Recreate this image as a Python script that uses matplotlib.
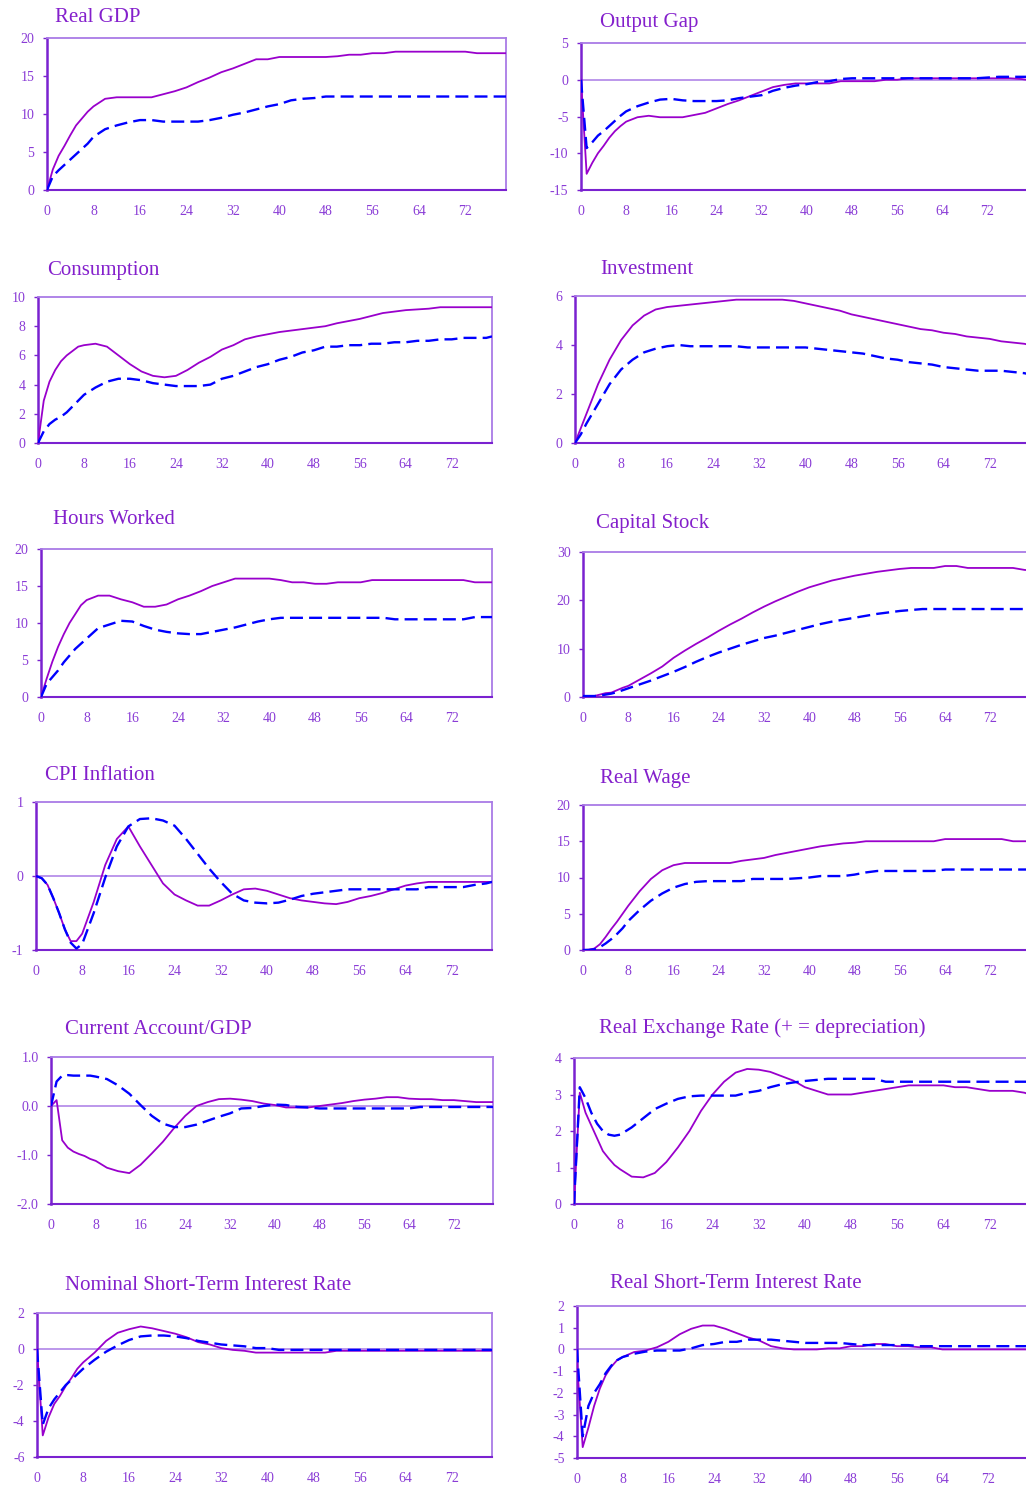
import matplotlib
matplotlib.use("Agg")
import matplotlib.pyplot as plt

plt.rcParams['font.family'] = ['Liberation Serif', 'DejaVu Serif']

W, H = 1026, 1488

# quarters after the shock (every quarter to 8, then every second one)
quarters = list(range(0, 9)) + list(range(10, 80, 2)) + [79]
x_ticks = list(range(0, 80, 8))

real_gdp_base = [0, 2.7, 4.5, 5.8, 7.2, 8.5, 9.4, 10.3, 11.0,
                 12.0, 12.2, 12.2, 12.2, 12.2,
                 12.6, 13.0, 13.5, 14.2, 14.8,
                 15.5, 16.0, 16.6, 17.2, 17.2,
                 17.5, 17.5, 17.5, 17.5, 17.5,
                 17.6, 17.8, 17.8, 18.0, 18.0,
                 18.2, 18.2, 18.2, 18.2, 18.2,
                 18.2, 18.2, 18.0, 18.0, 18.0, 18.0]
real_gdp_alt = [0, 1.8, 2.6, 3.3, 4.0, 4.7, 5.4, 6.1, 7.0,
                8.0, 8.5, 8.9, 9.2, 9.2,
                9.0, 9.0, 9.0, 9.0, 9.2,
                9.5, 9.9, 10.2, 10.6, 11.0,
                11.3, 11.8, 12.0, 12.1, 12.3,
                12.3, 12.3, 12.3, 12.3, 12.3,
                12.3, 12.3, 12.3, 12.3, 12.3,
                12.3, 12.3, 12.3, 12.3, 12.3, 12.3]

output_gap_base = [0, -12.8, -11.3, -10.0, -9.0, -7.9, -7.0, -6.3, -5.7,
                   -5.1, -4.9, -5.1, -5.1, -5.1,
                   -4.8, -4.5, -3.9, -3.3, -2.8,
                   -2.2, -1.6, -1.0, -0.7, -0.5,
                   -0.5, -0.5, -0.5, -0.2, -0.2,
                   -0.2, -0.2, 0.0, 0.0, 0.2,
                   0.2, 0.2, 0.2, 0.2, 0.2,
                   0.2, 0.2, 0.2, 0.2, 0.1, 0.0]
output_gap_alt = [0, -9.3, -8.5, -7.6, -7.0, -6.3, -5.6, -4.9, -4.3,
                  -3.6, -3.1, -2.7, -2.6, -2.8,
                  -2.9, -2.9, -2.9, -2.8, -2.5,
                  -2.3, -2.1, -1.5, -1.1, -0.8,
                  -0.6, -0.3, -0.2, 0.1, 0.2,
                  0.2, 0.2, 0.2, 0.2, 0.2,
                  0.2, 0.2, 0.2, 0.2, 0.2,
                  0.2, 0.3, 0.4, 0.4, 0.4, 0.4]

consumption_base = [0, 2.9, 4.2, 5.0, 5.6, 6.0, 6.3, 6.6, 6.7,
                    6.8, 6.6, 6.0, 5.4, 4.9,
                    4.6, 4.5, 4.6, 5.0, 5.5,
                    5.9, 6.4, 6.7, 7.1, 7.3,
                    7.45, 7.6, 7.7, 7.8, 7.9,
                    8.0, 8.2, 8.35, 8.5, 8.7,
                    8.9, 9.0, 9.1, 9.15, 9.2,
                    9.3, 9.3, 9.3, 9.3, 9.3, 9.3]
consumption_alt = [0, 0.8, 1.3, 1.6, 1.8, 2.1, 2.5, 2.9, 3.3,
                   3.8, 4.2, 4.4, 4.4, 4.3,
                   4.1, 4.0, 3.9, 3.9, 3.9,
                   4.0, 4.4, 4.6, 4.9, 5.2,
                   5.4, 5.7, 5.9, 6.2, 6.35,
                   6.6, 6.6, 6.7, 6.7, 6.8,
                   6.8, 6.9, 6.9, 7.0, 7.0,
                   7.1, 7.1, 7.2, 7.2, 7.2, 7.3]

investment_base = [0, 0.6, 1.2, 1.8, 2.4, 2.9, 3.4, 3.8, 4.2,
                   4.8, 5.2, 5.45, 5.55, 5.6,
                   5.65, 5.7, 5.75, 5.8, 5.85,
                   5.85, 5.85, 5.85, 5.85, 5.8,
                   5.7, 5.6, 5.5, 5.4, 5.25,
                   5.15, 5.05, 4.95, 4.85, 4.75,
                   4.65, 4.6, 4.5, 4.45, 4.35,
                   4.3, 4.25, 4.15, 4.1, 4.05, 4.0]
investment_alt = [0, 0.35, 0.8, 1.2, 1.6, 2.0, 2.4, 2.7, 3.0,
                  3.4, 3.7, 3.85, 3.95, 4.0,
                  3.95, 3.95, 3.95, 3.95, 3.95,
                  3.9, 3.9, 3.9, 3.9, 3.9,
                  3.9, 3.85, 3.8, 3.75, 3.7,
                  3.65, 3.55, 3.45, 3.4, 3.3,
                  3.25, 3.2, 3.1, 3.05, 3.0,
                  2.95, 2.95, 2.95, 2.9, 2.85, 2.8]

hours_base = [0, 2.5, 4.8, 6.8, 8.5, 10.0, 11.2, 12.4, 13.1,
              13.7, 13.7, 13.2, 12.8, 12.2,
              12.2, 12.5, 13.2, 13.7, 14.3,
              15.0, 15.5, 16.0, 16.0, 16.0,
              16.0, 15.8, 15.5, 15.5, 15.3,
              15.3, 15.5, 15.5, 15.5, 15.8,
              15.8, 15.8, 15.8, 15.8, 15.8,
              15.8, 15.8, 15.8, 15.5, 15.5, 15.5]
hours_alt = [0, 1.8, 2.7, 3.6, 4.7, 5.6, 6.5, 7.2, 7.9,
             9.3, 9.8, 10.3, 10.2, 9.6,
             9.1, 8.8, 8.6, 8.5, 8.5,
             8.8, 9.1, 9.4, 9.8, 10.2,
             10.5, 10.7, 10.7, 10.7, 10.7,
             10.7, 10.7, 10.7, 10.7, 10.7,
             10.7, 10.5, 10.5, 10.5, 10.5,
             10.5, 10.5, 10.5, 10.8, 10.8, 10.8]

capital_base = [0.2, 0.2, 0.2, 0.5, 0.8, 0.9, 1.4, 1.9, 2.3,
                3.6, 4.9, 6.3, 8.1, 9.6,
                11.0, 12.3, 13.7, 15.0, 16.2,
                17.5, 18.7, 19.8, 20.8, 21.8,
                22.7, 23.4, 24.1, 24.6, 25.1,
                25.5, 25.9, 26.2, 26.5, 26.7,
                26.7, 26.7, 27.1, 27.1, 26.7,
                26.7, 26.7, 26.7, 26.7, 26.3, 26.2]
capital_alt = [0.2, 0.2, 0.2, 0.3, 0.5, 0.7, 1.0, 1.4, 1.8,
               2.6, 3.4, 4.3, 5.2, 6.2,
               7.3, 8.3, 9.2, 10.0, 10.8,
               11.5, 12.2, 12.7, 13.3, 13.9,
               14.5, 15.1, 15.6, 16.0, 16.4,
               16.8, 17.2, 17.5, 17.8, 18.0,
               18.2, 18.2, 18.2, 18.2, 18.2,
               18.2, 18.2, 18.2, 18.2, 18.2, 18.2]

cpi_base = [0, -0.03, -0.12, -0.3, -0.5, -0.72, -0.88, -0.88, -0.78,
            -0.35, 0.15, 0.5, 0.67, 0.4,
            0.15, -0.1, -0.25, -0.33, -0.4,
            -0.4, -0.33, -0.25, -0.18, -0.17,
            -0.2, -0.25, -0.3, -0.33, -0.35,
            -0.37, -0.38, -0.35, -0.3, -0.27,
            -0.23, -0.18, -0.13, -0.1, -0.08,
            -0.08, -0.08, -0.08, -0.08, -0.08, -0.08]
cpi_alt = [0, -0.03, -0.12, -0.3, -0.5, -0.72, -0.9, -0.98, -0.92,
           -0.5, -0.02, 0.4, 0.67, 0.77,
           0.78, 0.75, 0.68, 0.5, 0.3,
           0.1, -0.08, -0.24, -0.33, -0.36,
           -0.37, -0.36, -0.32, -0.27, -0.24,
           -0.22, -0.2, -0.18, -0.18, -0.18,
           -0.18, -0.18, -0.18, -0.18, -0.15,
           -0.15, -0.15, -0.15, -0.12, -0.1, -0.08]

real_wage_base = [0, 0.05, 0.2, 0.8, 1.8, 2.9, 3.9, 5.0, 6.1,
                  8.1, 9.8, 11.0, 11.7, 12.0,
                  12.0, 12.0, 12.0, 12.0, 12.3,
                  12.5, 12.7, 13.1, 13.4, 13.7,
                  14.0, 14.3, 14.5, 14.7, 14.8,
                  15.0, 15.0, 15.0, 15.0, 15.0,
                  15.0, 15.0, 15.3, 15.3, 15.3,
                  15.3, 15.3, 15.3, 15.0, 15.0, 15.0]
real_wage_alt = [0, 0, 0.1, 0.4, 0.9, 1.5, 2.2, 3.0, 4.0,
                 5.5, 6.8, 7.8, 8.6, 9.1,
                 9.4, 9.5, 9.5, 9.5, 9.5,
                 9.8, 9.8, 9.8, 9.8, 9.9,
                 10.0, 10.2, 10.2, 10.2, 10.4,
                 10.7, 10.9, 10.9, 10.9, 10.9,
                 10.9, 10.9, 11.1, 11.1, 11.1,
                 11.1, 11.1, 11.1, 11.1, 11.1, 11.1]

current_account_base = [0, 0.12, -0.7, -0.85, -0.93, -0.98, -1.02, -1.08, -1.12,
                        -1.26, -1.33, -1.37, -1.2, -0.97,
                        -0.73, -0.45, -0.2, 0.0, 0.08,
                        0.14, 0.15, 0.13, 0.1, 0.05,
                        0.02, -0.03, -0.03, -0.03, 0.0,
                        0.03, 0.06, 0.1, 0.13, 0.15,
                        0.18, 0.18, 0.15, 0.14, 0.14,
                        0.12, 0.12, 0.1, 0.08, 0.08, 0.08]
current_account_alt = [0, 0.5, 0.62, 0.63, 0.62, 0.62, 0.62, 0.62, 0.6,
                       0.55, 0.42, 0.25, 0.02, -0.2,
                       -0.36, -0.43, -0.43, -0.38, -0.3,
                       -0.22, -0.15, -0.05, -0.04, 0.0,
                       0.03, 0.02, -0.02, -0.03, -0.05,
                       -0.05, -0.05, -0.05, -0.05, -0.05,
                       -0.05, -0.05, -0.05, -0.02, -0.02,
                       -0.02, -0.02, -0.02, -0.02, -0.02, -0.02]

exchange_rate_base = [0, 3.05, 2.5, 2.15, 1.8, 1.45, 1.25, 1.07, 0.95,
                      0.75, 0.73, 0.85, 1.15, 1.55,
                      2.0, 2.55, 3.0, 3.35, 3.6,
                      3.7, 3.68, 3.62, 3.5, 3.38,
                      3.2, 3.1, 3.0, 3.0, 3.0,
                      3.05, 3.1, 3.15, 3.2, 3.25,
                      3.25, 3.25, 3.25, 3.2, 3.2,
                      3.15, 3.1, 3.1, 3.1, 3.05, 3.0]
exchange_rate_alt = [0, 3.2, 2.9, 2.5, 2.2, 2.0, 1.9, 1.87, 1.9,
                     2.1, 2.35, 2.6, 2.75, 2.88,
                     2.95, 2.97, 2.97, 2.97, 2.97,
                     3.05, 3.1, 3.2, 3.28, 3.33,
                     3.37, 3.4, 3.43, 3.43, 3.43,
                     3.43, 3.43, 3.35, 3.35, 3.35,
                     3.35, 3.35, 3.35, 3.35, 3.35,
                     3.35, 3.35, 3.35, 3.35, 3.35, 3.35]

nominal_rate_base = [0, -4.8, -3.8, -3.05, -2.6, -2.05, -1.6, -1.1, -0.75,
                     -0.2, 0.45, 0.9, 1.1, 1.25,
                     1.15, 1.0, 0.85, 0.65, 0.38,
                     0.25, 0.05, -0.05, -0.1, -0.2,
                     -0.2, -0.2, -0.2, -0.2, -0.2,
                     -0.2, -0.1, -0.1, -0.1, -0.1,
                     -0.1, -0.1, -0.1, -0.1, -0.1,
                     -0.1, -0.1, -0.1, -0.1, -0.1, -0.1]
nominal_rate_alt = [0, -4.2, -3.3, -2.8, -2.4, -2.0, -1.7, -1.4, -1.1,
                    -0.6, -0.15, 0.2, 0.5, 0.7,
                    0.75, 0.75, 0.7, 0.6, 0.45,
                    0.35, 0.25, 0.2, 0.15, 0.05,
                    0.05, -0.05, -0.05, -0.05, -0.05,
                    -0.05, -0.05, -0.05, -0.05, -0.05,
                    -0.05, -0.05, -0.05, -0.05, -0.05,
                    -0.05, -0.05, -0.05, -0.05, -0.05, -0.05]

real_rate_base = [-0.6, -4.5, -3.6, -2.6, -1.8, -1.2, -0.8, -0.5, -0.35,
                  -0.12, -0.05, 0.1, 0.35, 0.7,
                  0.95, 1.1, 1.1, 0.95, 0.75,
                  0.55, 0.4, 0.15, 0.05, 0.0,
                  0.0, 0.0, 0.05, 0.05, 0.15,
                  0.15, 0.25, 0.25, 0.15, 0.15,
                  0.1, 0.1, 0.0, 0.0, 0.0,
                  0.0, 0.0, 0.0, 0.0, 0.0, 0.0]
real_rate_alt = [0, -4.0, -2.6, -2.0, -1.6, -1.1, -0.75, -0.5, -0.35,
                 -0.2, -0.1, -0.05, -0.05, -0.05,
                 0.05, 0.2, 0.25, 0.35, 0.35,
                 0.45, 0.45, 0.45, 0.4, 0.35,
                 0.3, 0.3, 0.3, 0.3, 0.25,
                 0.2, 0.2, 0.2, 0.2, 0.2,
                 0.15, 0.15, 0.15, 0.15, 0.15,
                 0.15, 0.15, 0.15, 0.15, 0.15, 0.15]

# title, base, alt, y ticks, tick format, axes box in px (left, top, right, bottom), title pos (x, y)
panels = [
    ("Real GDP", real_gdp_base, real_gdp_alt, [0, 5, 10, 15, 20], "{:.0f}", (47, 38, 506, 190), (55, 18)),
    ("Output Gap", output_gap_base, output_gap_alt, [-15, -10, -5, 0, 5], "{:.0f}", (581, 43, 1027, 190), (600, 23)),
    ("Consumption", consumption_base, consumption_alt, [0, 2, 4, 6, 8, 10], "{:.0f}", (38, 297, 492, 443), (47, 270)),
    ("Investment", investment_base, investment_alt, [0, 2, 4, 6], "{:.0f}", (575, 296, 1030, 443), (600, 270)),
    ("Hours Worked", hours_base, hours_alt, [0, 5, 10, 15, 20], "{:.0f}", (41, 549, 492, 697), (53, 519)),
    ("Capital Stock", capital_base, capital_alt, [0, 10, 20, 30], "{:.0f}", (583, 552, 1030, 697), (596, 523)),
    ("CPI Inflation", cpi_base, cpi_alt, [-1, 0, 1], "{:.0f}", (36, 802, 492, 950), (45, 775)),
    ("Real Wage", real_wage_base, real_wage_alt, [0, 5, 10, 15, 20], "{:.0f}", (583, 805, 1030, 950), (600, 778)),
    ("Current Account/GDP", current_account_base, current_account_alt, [-2, -1, 0, 1], "{:.1f}", (51, 1057, 493, 1204), (65, 1030)),
    ("Real Exchange Rate (+ = depreciation)", exchange_rate_base, exchange_rate_alt, [0, 1, 2, 3, 4], "{:.0f}", (574, 1058, 1030, 1204), (599, 1028)),
    ("Nominal Short-Term Interest Rate", nominal_rate_base, nominal_rate_alt, [-6, -4, -2, 0, 2], "{:.0f}", (37, 1313, 492, 1457), (65, 1286)),
    ("Real Short-Term Interest Rate", real_rate_base, real_rate_alt, [-5, -4, -3, -2, -1, 0, 1, 2], "{:.0f}", (577, 1306, 1028, 1458), (610, 1283)),
]

purple_line = "#9900CC"
blue_line = "#0000FF"
frame_dark = "#7A22D0"
frame_light = "#A97BE6"
text_purple = "#8A3CD6"
title_purple = "#8420CC"

fig = plt.figure(figsize=(W / 100, H / 100), dpi=100)

for title, base, alt, yt, fmt, (l, t, r, b), (tx, ty) in panels:
    ax = fig.add_axes([l / W, 1 - b / H, (r - l) / W, (b - t) / H])
    ax.plot(quarters, base, color=purple_line, lw=1.3, zorder=3)
    ax.plot(quarters, alt, color=blue_line, lw=1.7, dashes=(5.5, 2.6), zorder=4)
    ax.set_xlim(0, 79)
    ax.set_ylim(yt[0], yt[-1])
    if yt[0] < 0 < yt[-1]:
        ax.axhline(0, color=frame_light, lw=1.1, zorder=2)

    ax.set_yticks(yt)
    ax.set_yticklabels([fmt.format(v) for v in yt])
    ax.set_xticks(x_ticks)
    ax.set_xticklabels([str(v) for v in x_ticks])
    ax.tick_params(axis="y", direction="out", length=3, width=1, color=frame_dark,
                   labelcolor=text_purple, labelsize=10, pad=6)
    ax.tick_params(axis="x", length=0, labelcolor=text_purple, labelsize=10, pad=11)

    for side in ("top", "right"):
        ax.spines[side].set_color(frame_light)
        ax.spines[side].set_linewidth(1.3)
    ax.spines["left"].set_color(frame_dark)
    ax.spines["left"].set_linewidth(1.8)
    ax.spines["bottom"].set_color(frame_dark)
    ax.spines["bottom"].set_linewidth(1.5)

    fig.text(tx / W, 1 - ty / H, title, ha="left", va="center",
             color=title_purple, fontsize=15)

fig.savefig("out.png", dpi=100)
